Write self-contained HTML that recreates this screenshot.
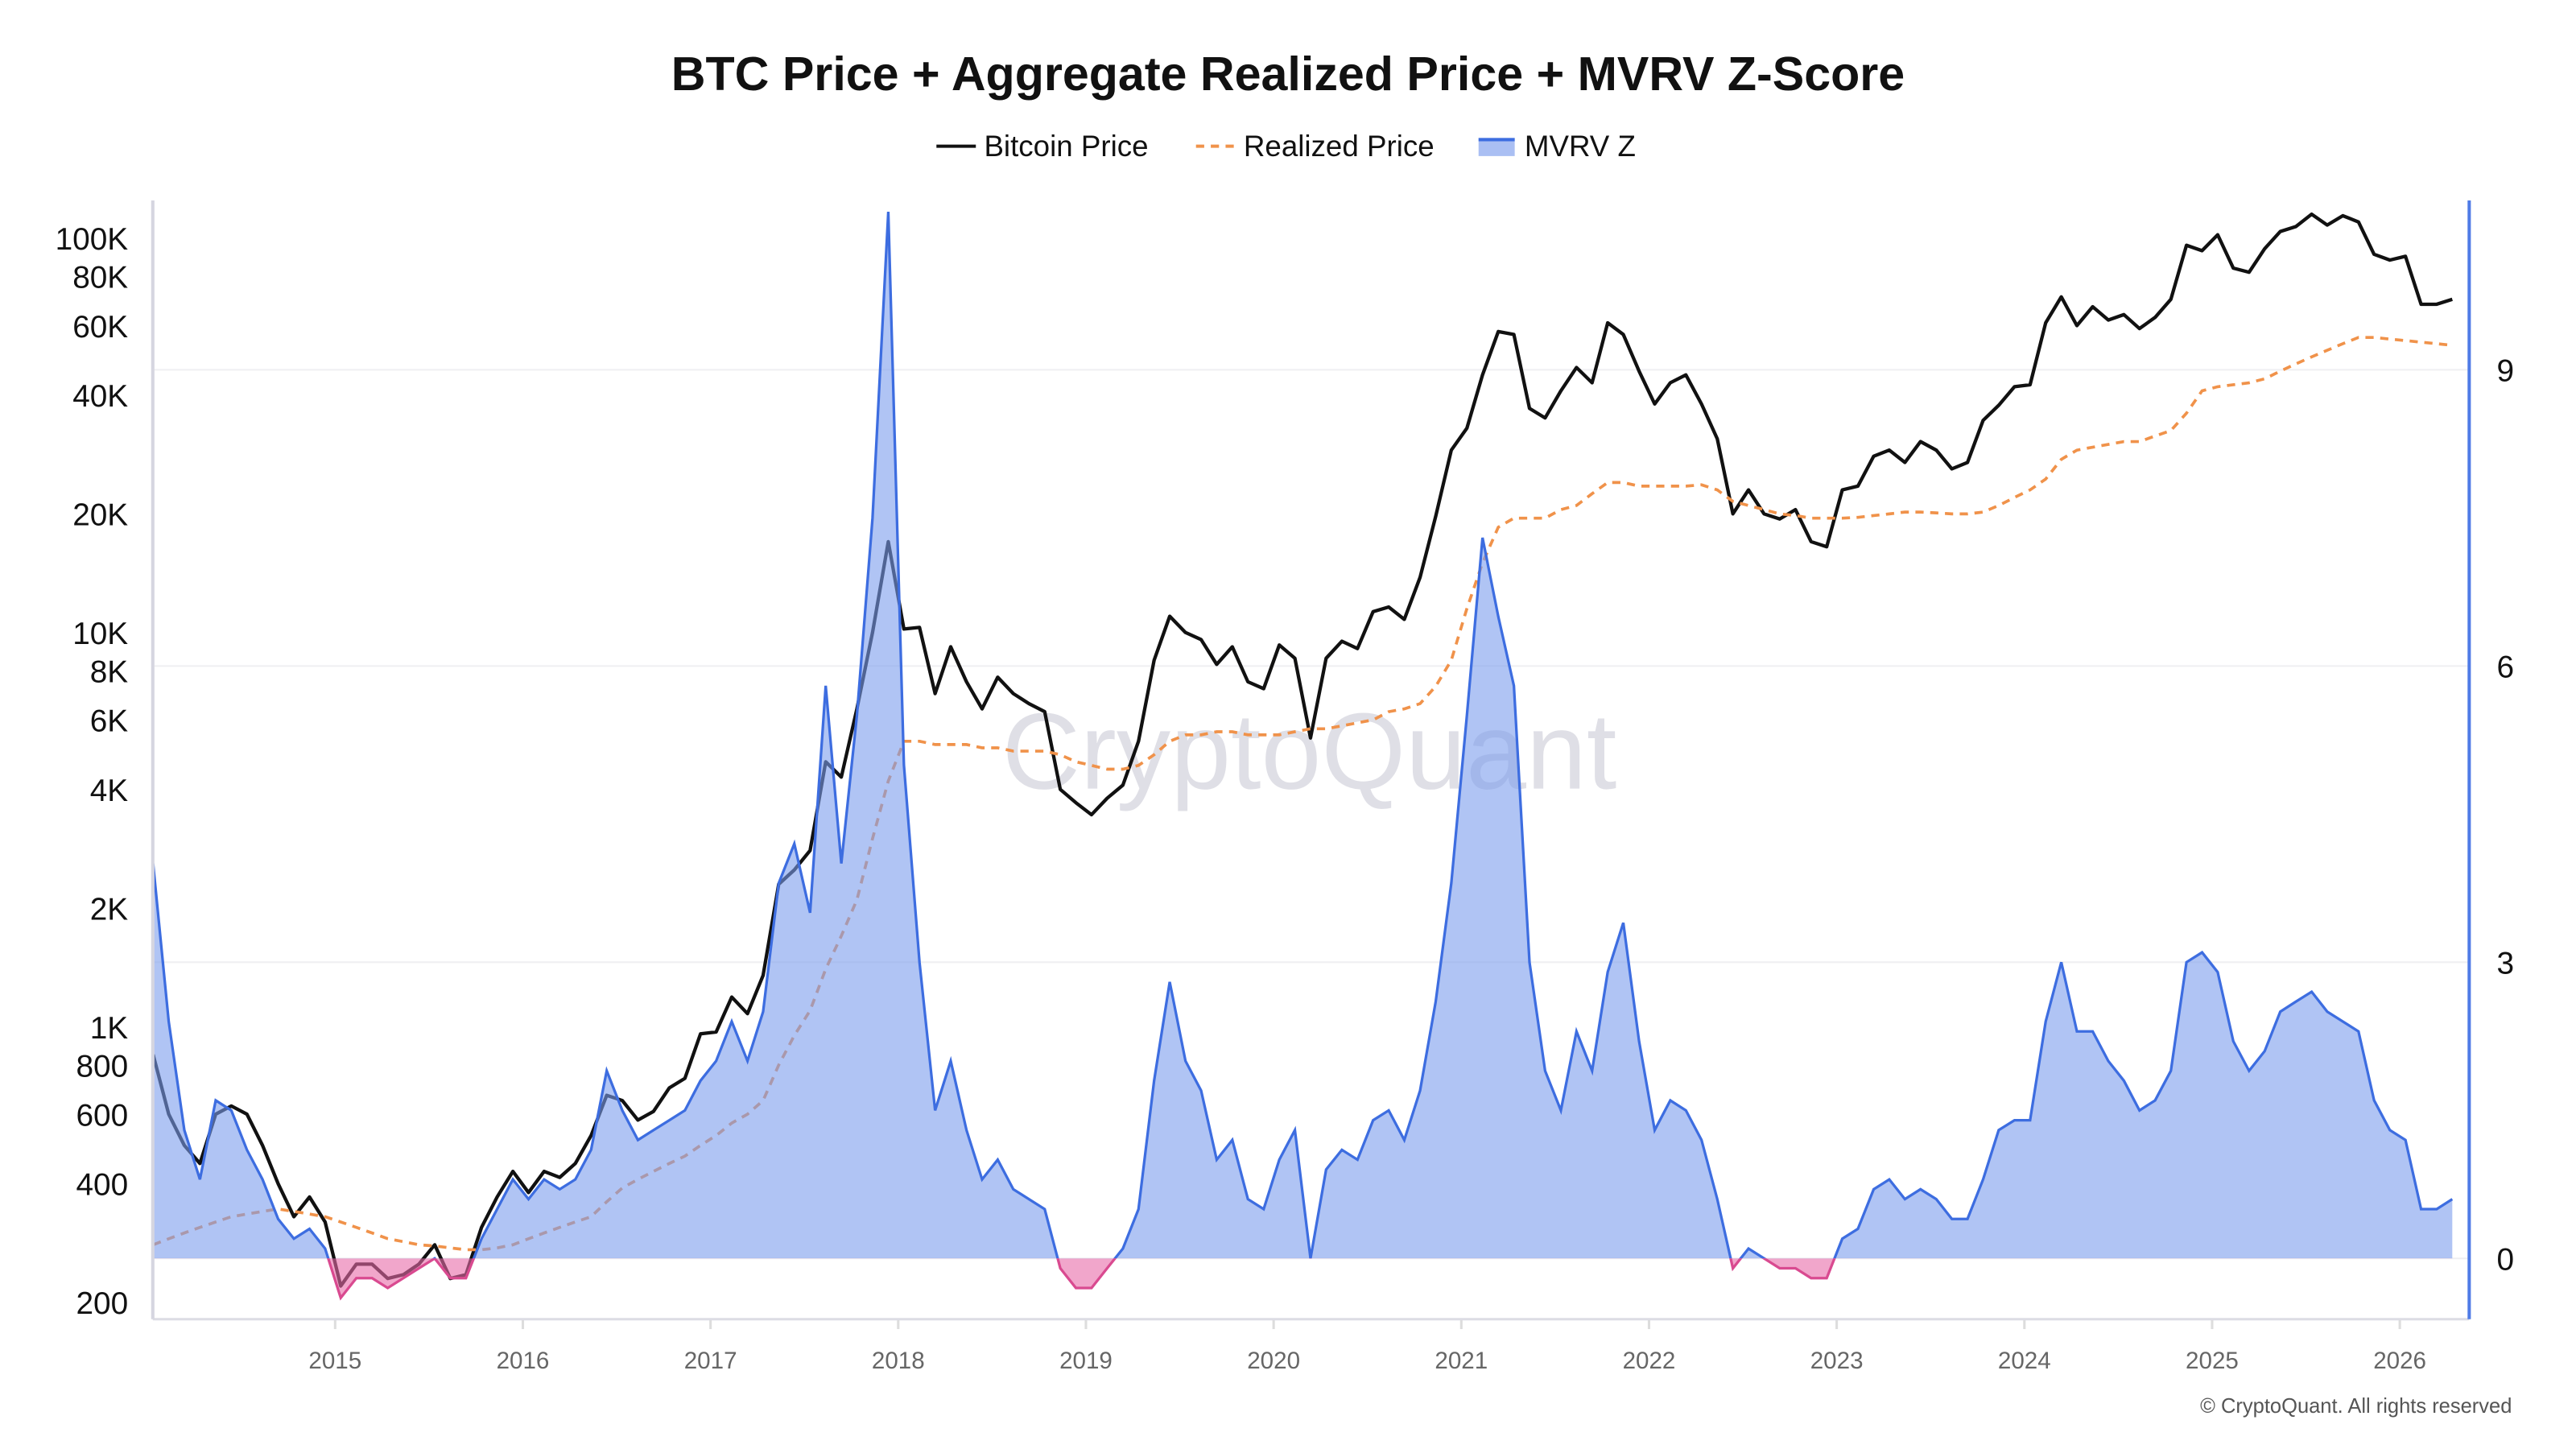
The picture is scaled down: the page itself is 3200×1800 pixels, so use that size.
<!DOCTYPE html>
<html><head><meta charset="utf-8"><style>
html,body{margin:0;padding:0;background:#fff;}
svg{display:block;font-family:"Liberation Sans",sans-serif;}
</style></head><body>
<svg id="chart" width="3200" height="1800" viewBox="0 0 1568 882" xmlns="http://www.w3.org/2000/svg">
<rect width="1568" height="882" fill="#fff"/>
<text x="784" y="55" text-anchor="middle" font-size="29" font-weight="bold" fill="#111">BTC Price + Aggregate Realized Price + MVRV Z-Score</text>
<g font-size="18" fill="#111">
 <g><line x1="570" y1="89" x2="594" y2="89" stroke="#111" stroke-width="2"/><text x="599" y="95">Bitcoin Price</text></g>
 <g><line x1="728" y1="89" x2="752" y2="89" stroke="#f0924a" stroke-width="2" stroke-dasharray="5,4"/><text x="757" y="95">Realized Price</text></g>
 <g><rect x="900" y="84" width="22" height="11" fill="#aabff3"/><line x1="900" y1="85" x2="922" y2="85" stroke="#3d6de0" stroke-width="2"/><text x="928" y="95">MVRV Z</text></g>
</g>
<text x="797" y="480" text-anchor="middle" font-size="66" fill="#d8d8e0" opacity="0.8">CryptoQuant</text>
<g id="grid"></g>
<g id="series"></g>
<g id="axes"></g>
<text x="1529" y="860" text-anchor="end" font-size="12.5" fill="#555">© CryptoQuant. All rights reserved</text>
</svg>
<script>
const startYear = 2014.03;
const years = [2015,2016,2017,2018,2019,2020,2021,2022,2023,2024,2025,2026];
const priceTicks = [200,400,600,800,1000,2000,4000,6000,8000,10000,20000,40000,60000,80000,100000];
const priceTickLabels = ["200","400","600","800","1K","2K","4K","6K","8K","10K","20K","40K","60K","80K","100K"];
const zTicks = [0,3,6,9];
const price = [
850,600,500,450,600,630,600,500,400,330,370,320,
220,250,250,230,235,250,280,230,235,310,370,430,
380,430,415,450,530,670,650,580,610,700,740,960,
970,1190,1080,1350,2300,2500,2800,4700,4300,6400,10000,17000,
10200,10300,7000,9200,7500,6400,7700,7000,6600,6300,4000,3700,
3450,3800,4100,5300,8500,11000,10000,9600,8300,9200,7500,7200,
9300,8600,5400,8600,9500,9100,11300,11600,10800,13800,19700,29000,
33000,45000,58000,57000,37000,35000,41000,47000,43000,61000,57000,46000,
38000,43000,45000,38000,31000,20000,23000,20000,19400,20500,17000,16500,
23000,23500,28000,29000,27000,30500,29000,26000,27000,34500,37700,42000,
42500,61000,71000,60000,67000,62000,64000,59000,63000,70000,96000,93000,
102000,84000,82000,94000,104000,107000,115000,108000,114000,110000,91000,88000,
90000,68000,68000,70000];
const realized = [
280,290,300,310,320,330,335,340,345,340,335,330,
320,310,300,290,285,280,278,275,272,272,275,280,
290,300,310,320,330,360,390,410,430,450,470,500,
530,570,600,650,800,950,1100,1400,1700,2100,3000,4200,
5300,5300,5200,5200,5200,5100,5100,5000,5000,5000,4900,4700,
4600,4500,4500,4600,4900,5300,5500,5500,5600,5600,5500,5500,
5500,5600,5700,5700,5800,5900,6000,6300,6400,6600,7300,8500,
11500,15000,18500,19500,19500,19500,20500,21000,22500,24000,24000,23500,
23500,23500,23500,23700,23000,21500,21000,20500,20000,19800,19500,19500,
19500,19600,19800,20000,20200,20200,20100,20000,20000,20200,21000,22000,
23000,24500,27500,29000,29500,30000,30500,30500,31500,32500,36000,41000,
42000,42500,43000,44000,46000,48000,50000,52000,54000,56000,56000,55500,
55000,54500,54000,53500];
const mvrvZ = [
4.0,2.4,1.3,0.8,1.6,1.5,1.1,0.8,0.4,0.2,0.3,0.1,
-0.4,-0.2,-0.2,-0.3,-0.2,-0.1,0.0,-0.2,-0.2,0.2,0.5,0.8,
0.6,0.8,0.7,0.8,1.1,1.9,1.5,1.2,1.3,1.4,1.5,1.8,
2.0,2.4,2.0,2.5,3.8,4.2,3.5,5.8,4.0,5.5,7.5,10.6,
5.0,3.0,1.5,2.0,1.3,0.8,1.0,0.7,0.6,0.5,-0.1,-0.3,
-0.3,-0.1,0.1,0.5,1.8,2.8,2.0,1.7,1.0,1.2,0.6,0.5,
1.0,1.3,0.0,0.9,1.1,1.0,1.4,1.5,1.2,1.7,2.6,3.8,
5.5,7.3,6.5,5.8,3.0,1.9,1.5,2.3,1.9,2.9,3.4,2.2,
1.3,1.6,1.5,1.2,0.6,-0.1,0.1,0.0,-0.1,-0.1,-0.2,-0.2,
0.2,0.3,0.7,0.8,0.6,0.7,0.6,0.4,0.4,0.8,1.3,1.4,
1.4,2.4,3.0,2.3,2.3,2.0,1.8,1.5,1.6,1.9,3.0,3.1,
2.9,2.2,1.9,2.1,2.5,2.6,2.7,2.5,2.4,2.3,1.6,1.3,
1.2,0.5,0.5,0.6];

const L=93,R=1503,T=122,B=803;
const xOf = t => 204 + (t-2015)*114.25;
const yP = v => 625 - (Math.log10(v)-3)*240;
const yZ = z => 766 - z*60.1;
const tOf = i => startYear + i/12;
const NS="http://www.w3.org/2000/svg";
function mk(tag, attrs, parent){const e=document.createElementNS(NS,tag);for(const k in attrs)e.setAttribute(k,attrs[k]);parent.appendChild(e);return e;}
const grid=document.getElementById('grid'), series=document.getElementById('series'), axes=document.getElementById('axes');
const svg=document.getElementById('chart');

zTicks.forEach(z=>{
 const g=mk('line',{x1:L,x2:R,y1:yZ(z),y2:yZ(z),stroke:'#efeff2','stroke-width':1},grid);
 
 
 const t=mk('text',{x:1525,y:yZ(z)+7,'text-anchor':'middle','font-size':19,fill:'#111'},axes);
 t.textContent=z;
 
 
});
priceTicks.forEach((v,i)=>{
 const t=mk('text',{x:78,y:yP(v)+7,'text-anchor':'end','font-size':19,fill:'#111'},axes);
 t.textContent=priceTickLabels[i];
 
 
});
years.forEach(y=>{
 const tk=mk('line',{x1:xOf(y),x2:xOf(y),y1:B,y2:B+6,stroke:'#ddd','stroke-width':1.5},axes);
 
 
 const t=mk('text',{x:xOf(y),y:833,'text-anchor':'middle','font-size':14.5,fill:'#666'},axes);
 t.textContent=y;
 
 
});
const xa=mk('line',{x1:L,x2:R,y1:B,y2:B,stroke:'#dcdce4','stroke-width':1.5},axes);


const la=mk('line',{x1:L,x2:L,y1:T,y2:B,stroke:'#d6d6e0','stroke-width':2},axes);


const ra=mk('line',{x1:R,x2:R,y1:T,y2:B,stroke:'#4f7be6','stroke-width':2},axes);



const defs=mk('defs',{},svg);
const cA=mk('clipPath',{id:'above'},defs); mk('rect',{x:0,y:0,width:1568,height:yZ(0)},cA);
const cB=mk('clipPath',{id:'below'},defs); mk('rect',{x:0,y:yZ(0),width:1568,height:200},cB);

const pts=(arr,fy)=>arr.map((v,i)=>xOf(tOf(i)).toFixed(1)+','+fy(v).toFixed(1)).join(' ');
const pl=mk('polyline',{points:pts(price,yP),fill:'none',stroke:'#111','stroke-width':2.1,'stroke-linejoin':'round'},series);


const rl=mk('polyline',{points:pts(realized,yP),fill:'none',stroke:'#f0924a','stroke-width':1.8,'stroke-dasharray':'5,4'},series);



const zp=pts(mvrvZ,yZ);
const n=mvrvZ.length;
const areaPts=xOf(tOf(0)).toFixed(1)+','+yZ(0)+' '+zp+' '+xOf(tOf(n-1)).toFixed(1)+','+yZ(0);
const za=mk('polygon',{points:areaPts,fill:'#7b9cec','fill-opacity':0.6,'clip-path':'url(#above)'},series);


const zn=mk('polygon',{points:areaPts,fill:'#e86aa8','fill-opacity':0.6,'clip-path':'url(#below)'},series);


const zl=mk('polyline',{points:zp,fill:'none',stroke:'#3d6de0','stroke-width':1.6,'clip-path':'url(#above)'},series);


const zln=mk('polyline',{points:zp,fill:'none',stroke:'#d94a90','stroke-width':1.6,'clip-path':'url(#below)'},series);


</script>
</body></html>
